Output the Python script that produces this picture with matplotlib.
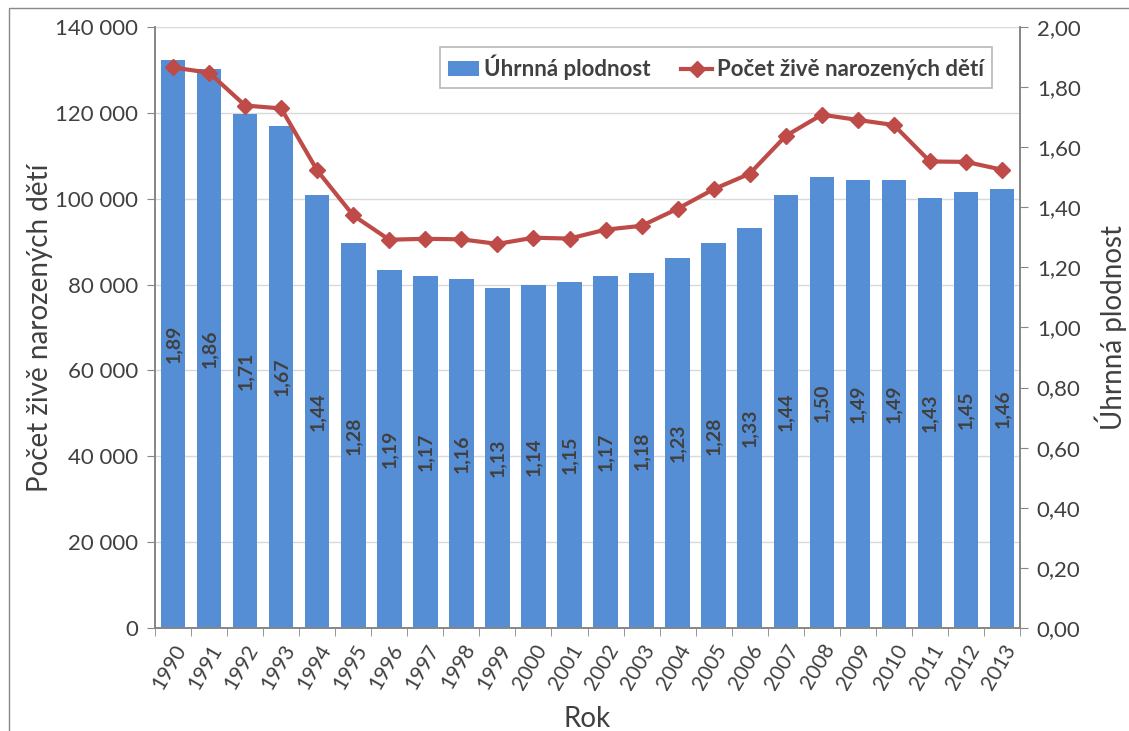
import matplotlib
matplotlib.use("Agg")
import matplotlib.pyplot as plt
from matplotlib.ticker import FuncFormatter, MultipleLocator, FixedLocator
from matplotlib.patches import Rectangle

plt.rcParams['font.family'] = ['Lato', 'DejaVu Sans']

years = list(range(1990, 2014))
births = [130564, 129354, 121705, 121025, 106579, 96097, 90446, 90657,
          90535, 89471, 90910, 90715, 92786, 93685, 97664, 102211,
          105831, 114632, 119570, 118348, 117153, 108673, 108576, 106751]
tfr = [1.89, 1.86, 1.71, 1.67, 1.44, 1.28, 1.19, 1.17, 1.16, 1.13, 1.14, 1.15,
       1.17, 1.18, 1.23, 1.28, 1.33, 1.44, 1.50, 1.49, 1.49, 1.43, 1.45, 1.46]

bar_color = '#558ed5'
line_color = '#be4b48'
text_color = '#404040'
axis_color = '#868686'

fig = plt.figure(figsize=(11.29, 7.31), dpi=100)
ax = fig.add_axes([0.1373, 0.1409, 0.7662, 0.8222])
ax_bar = ax.twinx()
ax_line = ax.twinx()

x = list(range(len(years)))

# left axis: births scale with gridlines
ax.set_ylim(0, 140000)
ax.set_xlim(-0.5, len(years) - 0.5)
ax.yaxis.set_major_locator(MultipleLocator(20000))
ax.yaxis.set_major_formatter(FuncFormatter(lambda v, p: f"{int(v):,}".replace(",", " ")))
ax.grid(axis='y', color='#d9d9d9', linewidth=1)
ax.set_axisbelow(True)
ax.set_ylabel('Počet živě narozených dětí', fontsize=20, color=text_color)
ax.yaxis.set_label_coords(-0.118, 0.5)
ax.set_xlabel('Rok', fontsize=20, color=text_color)
ax.xaxis.set_label_coords(0.5, -0.13)

# bars on right axis
ax_bar.set_ylim(0, 2.0)
bars = ax_bar.bar(x, tfr, width=0.68, color=bar_color, label='Úhrnná plodnost', zorder=2)
ax_bar.bar_label(bars, labels=[f"{v:.2f}".replace(".", ",") for v in tfr],
                 label_type='center', rotation=90, fontsize=14,
                 fontweight='bold', color=text_color)
ax_bar.yaxis.set_major_locator(MultipleLocator(0.2))
ax_bar.yaxis.set_major_formatter(FuncFormatter(lambda v, p: f"{v:.2f}".replace(".", ",")))
ax_bar.set_ylabel('Úhrnná plodnost', fontsize=20, color=text_color, labelpad=10)

# line on top, same scale as left axis
ax_line.set_ylim(ax.get_ylim())
line, = ax_line.plot(x, births, color=line_color, linewidth=3, marker='D',
                     markersize=8, label='Počet živě narozených dětí', zorder=3)
ax_line.set_yticks([])
ax_line.axis('off')

# x ticks: labels at categories, tick marks between
ax.set_xticks(x)
ax.set_xticklabels([str(y) for y in years], rotation=60, ha='right',
                   rotation_mode='anchor', fontsize=15, color=text_color)
ax.tick_params(axis='x', which='major', length=0, pad=9)
ax.xaxis.set_minor_locator(FixedLocator([i - 0.5 for i in range(len(years) + 1)]))
ax.tick_params(axis='x', which='minor', length=6, color=axis_color)

ax.tick_params(axis='y', length=6, color=axis_color, labelsize=16, labelcolor=text_color, pad=6)
ax_bar.tick_params(axis='y', length=6, color=axis_color, labelsize=16, labelcolor=text_color, pad=6)

for a in (ax, ax_bar, ax_line):
    a.spines['top'].set_visible(False)
    for s in ('left', 'right', 'bottom'):
        a.spines[s].set_color(axis_color)
        a.spines[s].set_linewidth(1.2)

leg = ax_line.legend(handles=[bars, line], loc='upper right', ncol=2,
                     bbox_to_anchor=(0.98, 0.985), frameon=True, fancybox=False,
                     edgecolor='#a6a6a6', handlelength=1.4, handletextpad=0.2,
                     columnspacing=1.4, borderpad=0.35,
                     prop={'size': 16, 'weight': 'bold'})
leg.get_frame().set_linewidth(1.2)
for t in leg.get_texts():
    t.set_color(text_color)

# outer chart frame (cropped at the right and bottom in the source image)
fig.patches.append(Rectangle((0.008, -0.1), 1.1, 1.089, transform=fig.transFigure,
                             fill=False, edgecolor='#888888', linewidth=1))

fig.savefig('out.png', dpi=100)
